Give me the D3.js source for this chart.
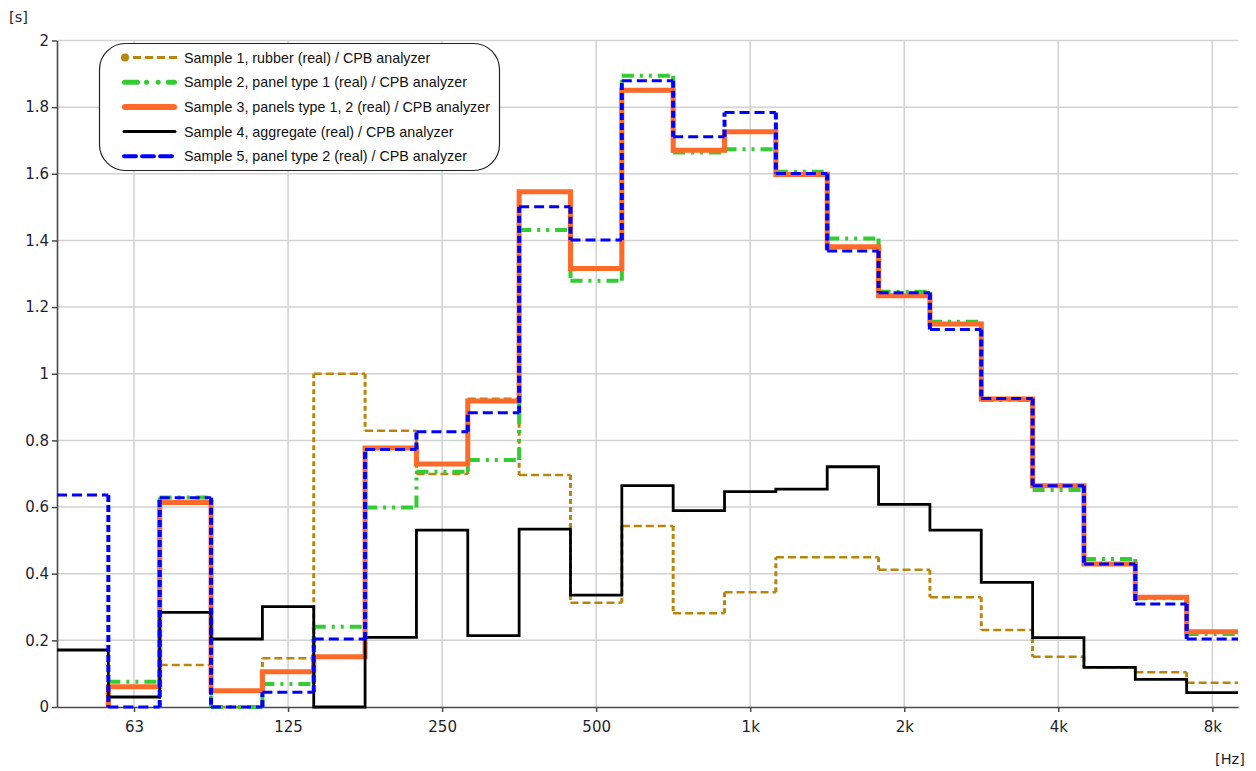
<!DOCTYPE html>
<html>
<head>
<meta charset="utf-8">
<script src="https://cdn.jsdelivr.net/npm/d3@7"></script>
<style>
  body { margin: 0; background: #fff; }
  svg { display: block; }
  .tick text { font-family: 'DejaVu Sans', sans-serif; font-size: 15px; fill: #1e1e30; }
  .unit { font-family: 'DejaVu Sans', sans-serif; font-size: 14.5px; fill: #1e1e30; }
  .legend text { font-family: 'Liberation Sans', Arial, sans-serif; font-size: 14.3px; fill: #111; }
</style>
</head>
<body>
<svg width="1256" height="771"></svg>
<script>
(function (d3) {
 'use strict';

 // third-octave band centres (nominal, Hz)
 const bands = [50, 63, 80, 100, 125, 160, 200, 250, 315, 400, 500, 630,
   800, 1000, 1250, 1600, 2000, 2500, 3150, 4000, 5000, 6300, 8000];

 // reverberation time per band [s], null = not drawn
 const sample1 = [null, null, 0.126, 0, 0.146, 1.0, 0.829, 0.699, 0.925, 0.696, 0.313, 0.543,
   0.281, 0.344, 0.449, 0.449, 0.412, 0.329, 0.231, 0.151, 0.119, 0.104, 0.073];
 const sample2 = [null, 0.076, 0.629, 0, 0.069, 0.241, 0.599, 0.706, 0.741, 1.431, 1.279, 1.894,
   1.664, 1.674, 1.606, 1.406, 1.246, 1.156, 0.921, 0.651, 0.444, 0.326, 0.219];
 const sample3 = [null, 0.061, 0.614, 0.049, 0.106, 0.151, 0.777, 0.729, 0.918, 1.546, 1.316, 1.851,
   1.671, 1.726, 1.598, 1.381, 1.234, 1.149, 0.924, 0.664, 0.429, 0.329, 0.226];
 const sample4 = [0.171, 0.030, 0.284, 0.204, 0.301, 0, 0.209, 0.531, 0.214, 0.534, 0.336, 0.664,
   0.589, 0.646, 0.654, 0.721, 0.608, 0.531, 0.374, 0.208, 0.119, 0.083, 0.043];
 const sample5 = [0.636, 0, 0.628, 0, 0.044, 0.204, 0.773, 0.826, 0.883, 1.501, 1.401, 1.879,
   1.711, 1.784, 1.601, 1.368, 1.243, 1.133, 0.926, 0.664, 0.429, 0.309, 0.204];

 const seriesNames = [
   'Sample 1, rubber (real) / CPB analyzer',
   'Sample 2, panel type 1 (real) / CPB analyzer',
   'Sample 3, panels type 1, 2 (real) / CPB analyzer',
   'Sample 4, aggregate (real) / CPB analyzer',
   'Sample 5, panel type 2 (real) / CPB analyzer'
 ];

 const xTickValues = [62.5, 125, 250, 500, 1000, 2000, 4000, 8000];
 const xTickLabels = ['63', '125', '250', '500', '1k', '2k', '4k', '8k'];
 const yTickValues = [0, 0.2, 0.4, 0.6, 0.8, 1, 1.2, 1.4, 1.6, 1.8, 2];

 const svg = d3.select('svg');

 const render = () => {
   const left = 57, right = 1238, top = 40.5, bottom = 707;

   // exact base-2 band centre and edges
   const centre = f => 1000 * Math.pow(2, Math.round(3 * Math.log2(f / 1000)) / 3);
   const lo = f => centre(f) * Math.pow(2, -1 / 6);
   const hi = f => centre(f) * Math.pow(2, 1 / 6);

   const xScale = d3.scaleLog()
     .domain([lo(bands[0]), hi(bands[bands.length - 1])])
     .range([left, right]);

   const yScale = d3.scaleLinear()
     .domain([0, 2])
     .range([bottom, top]);

   // grid
   const grid = svg.append('g').attr('class', 'grid');
   grid.selectAll('line.h').data(yTickValues.slice(1)).enter().append('line')
     .attr('x1', left).attr('x2', right)
     .attr('y1', d => yScale(d)).attr('y2', d => yScale(d))
     .attr('stroke', '#d2d2d2').attr('stroke-width', 1.5);
   grid.selectAll('line.v').data(xTickValues).enter().append('line')
     .attr('x1', d => xScale(d)).attr('x2', d => xScale(d))
     .attr('y1', top).attr('y2', bottom)
     .attr('stroke', '#d2d2d2').attr('stroke-width', 1.5);

   // axes
   const yAxis = d3.axisLeft(yScale)
     .tickValues(yTickValues)
     .tickFormat(d3.format('~g'))
     .tickSize(5)
     .tickPadding(3)
     .tickSizeOuter(0);
   const yAxisG = svg.append('g')
     .attr('transform', `translate(${left},0)`)
     .call(yAxis);

   const xAxis = d3.axisBottom(xScale)
     .tickValues(xTickValues)
     .tickFormat((d, i) => xTickLabels[i])
     .tickSize(5)
     .tickPadding(9)
     .tickSizeOuter(0);
   const xAxisG = svg.append('g')
     .attr('transform', `translate(0,${bottom})`)
     .call(xAxis);

   [xAxisG, yAxisG].forEach(a => {
     a.selectAll('.domain').attr('stroke', '#4a4a4a').attr('stroke-width', 1.6);
     a.selectAll('.tick line').attr('stroke', '#4a4a4a').attr('stroke-width', 1.5);
   });

   svg.append('text').attr('class', 'unit').attr('x', 9).attr('y', 22).text('[s]');
   svg.append('text').attr('class', 'unit').attr('x', 1215).attr('y', 764).text('[Hz]');

   // step paths
   const horizontals = values => {
     const p = d3.path();
     values.forEach((v, i) => {
       if (v === null) return;
       p.moveTo(xScale(lo(bands[i])), yScale(v));
       p.lineTo(xScale(hi(bands[i])), yScale(v));
     });
     return p.toString();
   };
   const verticals = values => {
     const p = d3.path();
     values.forEach((v, i) => {
       if (i === 0 || v === null) return;
       const prev = values[i - 1] === null ? 0 : values[i - 1];
       if (prev === v) return;
       const x = xScale(lo(bands[i]));
       p.moveTo(x, yScale(prev));
       p.lineTo(x, yScale(v));
     });
     return p.toString();
   };
   const continuous = values => {
     const p = d3.path();
     let started = false;
     values.forEach((v, i) => {
       if (v === null) return;
       const x0 = xScale(lo(bands[i])), x1 = xScale(hi(bands[i]));
       if (!started) {
         if (i === 0) p.moveTo(x0, yScale(v));
         else { p.moveTo(x0, yScale(0)); p.lineTo(x0, yScale(v)); }
         started = true;
       } else {
         p.lineTo(x0, yScale(v));
       }
       p.lineTo(x1, yScale(v));
     });
     return p.toString();
   };

   const series = [
     { values: sample1, color: '#b8860b', width: 2.5, dash: '8,4', vWidth: 3, vDash: '5,3' },
     { values: sample2, color: '#32cd32', width: 4, dash: '12,6,3,6,3,6', vWidth: 4, vDash: '12,6,3,6,3,6' },
     { values: sample3, color: '#ff6a28', width: 5, dash: null },
     { values: sample4, color: '#000000', width: 2.8, dash: null },
     { values: sample5, color: '#0000ff', width: 3, dash: '10,5', vWidth: 4, vDash: '7,3' }
   ];

   const g = svg.append('g').attr('class', 'series');
   series.forEach(s => {
     if (s.dash) {
       g.append('path')
         .attr('d', verticals(s.values))
         .attr('fill', 'none')
         .attr('stroke', s.color)
         .attr('stroke-width', s.vWidth)
         .attr('stroke-dasharray', s.vDash);
       g.append('path')
         .attr('d', horizontals(s.values))
         .attr('fill', 'none')
         .attr('stroke', s.color)
         .attr('stroke-width', s.width)
         .attr('stroke-dasharray', s.dash);
     } else {
       g.append('path')
         .attr('d', continuous(s.values))
         .attr('fill', 'none')
         .attr('stroke', s.color)
         .attr('stroke-width', s.width)
         .attr('stroke-linejoin', 'miter');
     }
   });

   // legend
   const legend = svg.append('g').attr('class', 'legend');
   legend.append('rect')
     .attr('x', 99.5).attr('y', 43.5)
     .attr('width', 400).attr('height', 127)
     .attr('rx', 26).attr('ry', 26)
     .attr('fill', '#fff')
     .attr('stroke', '#222')
     .attr('stroke-width', 1.2);

   const legendSymbols = [
     { color: '#b8860b', width: 3, dash: '8,4', cap: 'butt', x1: 133, x2: 177 },
     { color: '#32cd32', width: 5, dash: '13,9,0.1,11.5,0.1,10,13', cap: 'round', x1: 124.5, x2: 174.5 },
     { color: '#ff6a28', width: 6, dash: null, cap: 'round', x1: 125, x2: 174 },
     { color: '#000000', width: 3, dash: null, cap: 'round', x1: 124, x2: 175 },
     { color: '#0000ff', width: 4, dash: '12,6', cap: 'round', x1: 124, x2: 176 }
   ];

   const entry = legend.selectAll('g.entry').data(seriesNames)
     .enter().append('g')
       .attr('class', 'entry')
       .attr('transform', (d, i) => `translate(0,${57.5 + i * 24.7})`);

   entry.append('line')
     .attr('x1', (d, i) => legendSymbols[i].x1)
     .attr('x2', (d, i) => legendSymbols[i].x2)
     .attr('y1', 0).attr('y2', 0)
     .attr('stroke', (d, i) => legendSymbols[i].color)
     .attr('stroke-width', (d, i) => legendSymbols[i].width)
     .attr('stroke-linecap', (d, i) => legendSymbols[i].cap)
     .attr('stroke-dasharray', (d, i) => legendSymbols[i].dash);

   legend.append('circle')
     .attr('cx', 125).attr('cy', 57.5).attr('r', 4)
     .attr('fill', '#b8860b');

   entry.append('text')
     .attr('x', 184)
     .attr('y', 0)
     .attr('dy', '0.35em')
     .text(d => d);
 };

 render();

}(d3));
</script>
</body>
</html>
